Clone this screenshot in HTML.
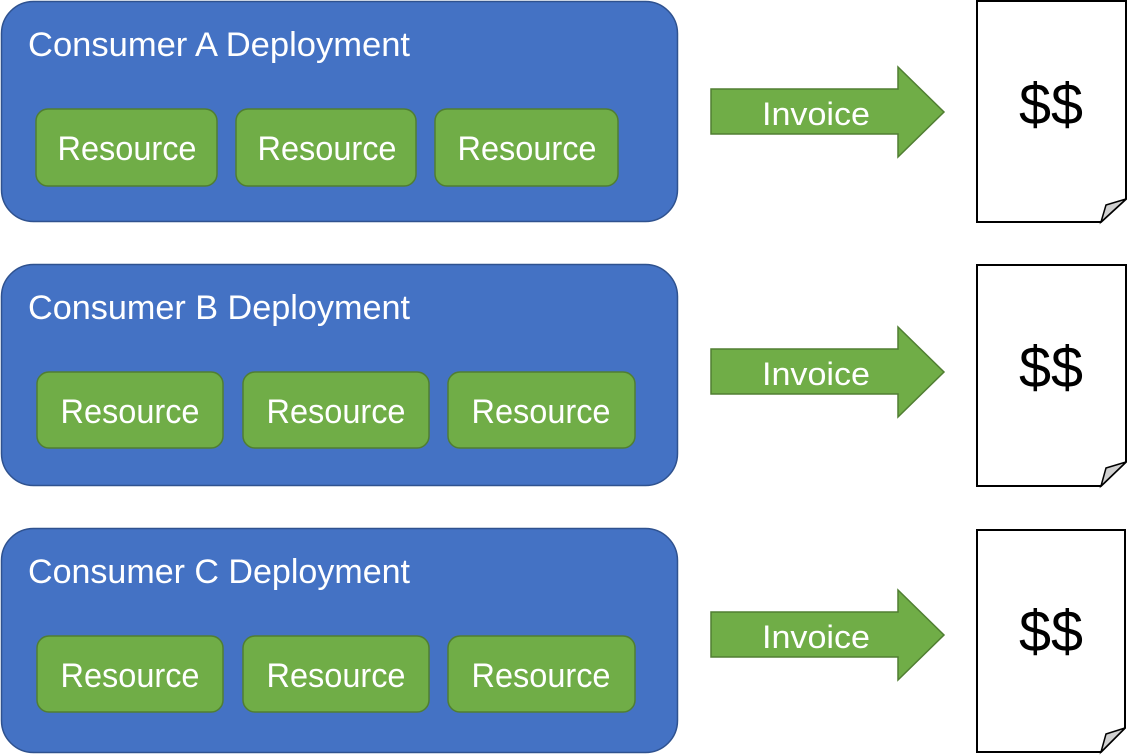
<!DOCTYPE html>
<html><head><meta charset="utf-8"><style>html,body{margin:0;padding:0;background:#fff}svg{display:block}</style></head>
<body>
<svg width="1129" height="755" viewBox="0 0 1129 755" xmlns="http://www.w3.org/2000/svg" font-family="'Liberation Sans', sans-serif">
<defs>
<g id="arrow"><polygon points="711,22 898,22 898,0 944,45 898,90 898,67 711,67" fill="#70ad47" stroke="#507e32" stroke-width="1.5"/></g>
</defs>
<!-- A -->
<rect x="1.5" y="1.5" width="676" height="220" rx="32" fill="#4472c4" stroke="#2f528f" stroke-width="1.5"/>
<text x="28" y="56" font-size="34" fill="#fff" textLength="382" lengthAdjust="spacingAndGlyphs">Consumer A Deployment</text>
<rect x="36" y="109" width="181" height="77" rx="12" fill="#70ad47" stroke="#507e32" stroke-width="1.5"/>
<rect x="236" y="109" width="180" height="77" rx="12" fill="#70ad47" stroke="#507e32" stroke-width="1.5"/>
<rect x="435" y="109" width="183" height="77" rx="12" fill="#70ad47" stroke="#507e32" stroke-width="1.5"/>
<text x="127" y="160" font-size="34" fill="#fff" text-anchor="middle" textLength="139" lengthAdjust="spacingAndGlyphs">Resource</text>
<text x="327" y="160" font-size="34" fill="#fff" text-anchor="middle" textLength="139" lengthAdjust="spacingAndGlyphs">Resource</text>
<text x="527" y="160" font-size="34" fill="#fff" text-anchor="middle" textLength="139" lengthAdjust="spacingAndGlyphs">Resource</text>
<!-- B -->
<rect x="1.5" y="264.5" width="676" height="221" rx="32" fill="#4472c4" stroke="#2f528f" stroke-width="1.5"/>
<text x="28" y="319" font-size="34" fill="#fff" textLength="382" lengthAdjust="spacingAndGlyphs">Consumer B Deployment</text>
<rect x="37" y="372" width="186" height="76" rx="12" fill="#70ad47" stroke="#507e32" stroke-width="1.5"/>
<rect x="243" y="372" width="186" height="76" rx="12" fill="#70ad47" stroke="#507e32" stroke-width="1.5"/>
<rect x="448" y="372" width="187" height="76" rx="12" fill="#70ad47" stroke="#507e32" stroke-width="1.5"/>
<text x="130" y="423" font-size="34" fill="#fff" text-anchor="middle" textLength="139" lengthAdjust="spacingAndGlyphs">Resource</text>
<text x="336" y="423" font-size="34" fill="#fff" text-anchor="middle" textLength="139" lengthAdjust="spacingAndGlyphs">Resource</text>
<text x="541" y="423" font-size="34" fill="#fff" text-anchor="middle" textLength="139" lengthAdjust="spacingAndGlyphs">Resource</text>
<!-- C -->
<rect x="1.5" y="528.5" width="676" height="224" rx="32" fill="#4472c4" stroke="#2f528f" stroke-width="1.5"/>
<text x="28" y="583" font-size="34" fill="#fff" textLength="382" lengthAdjust="spacingAndGlyphs">Consumer C Deployment</text>
<rect x="37" y="636" width="186" height="76" rx="12" fill="#70ad47" stroke="#507e32" stroke-width="1.5"/>
<rect x="243" y="636" width="186" height="76" rx="12" fill="#70ad47" stroke="#507e32" stroke-width="1.5"/>
<rect x="448" y="636" width="187" height="76" rx="12" fill="#70ad47" stroke="#507e32" stroke-width="1.5"/>
<text x="130" y="687" font-size="34" fill="#fff" text-anchor="middle" textLength="139" lengthAdjust="spacingAndGlyphs">Resource</text>
<text x="336" y="687" font-size="34" fill="#fff" text-anchor="middle" textLength="139" lengthAdjust="spacingAndGlyphs">Resource</text>
<text x="541" y="687" font-size="34" fill="#fff" text-anchor="middle" textLength="139" lengthAdjust="spacingAndGlyphs">Resource</text>
<!-- arrows -->
<use href="#arrow" transform="translate(0,67)"/>
<use href="#arrow" transform="translate(0,327)"/>
<use href="#arrow" transform="translate(0,590)"/>
<text x="816" y="125" font-size="32" fill="#fff" text-anchor="middle" textLength="108" lengthAdjust="spacingAndGlyphs">Invoice</text>
<text x="816" y="385" font-size="32" fill="#fff" text-anchor="middle" textLength="108" lengthAdjust="spacingAndGlyphs">Invoice</text>
<text x="816" y="648" font-size="32" fill="#fff" text-anchor="middle" textLength="108" lengthAdjust="spacingAndGlyphs">Invoice</text>
<!-- docs -->
<g stroke="#000" stroke-width="2">
<polygon points="977,1 1126,1 1126,199 1101,222 977,222" fill="#fff"/>
<polygon points="1101,222 1106,205 1126,199" fill="#d0d0d0" stroke-width="1.5"/>
<polygon points="977,265 1126,265 1126,462 1101,486 977,486" fill="#fff"/>
<polygon points="1101,486 1106,468 1126,462" fill="#d0d0d0" stroke-width="1.5"/>
<polygon points="977,530 1125,530 1125,728 1101,752 977,752" fill="#fff"/>
<polygon points="1101,752 1106,734 1125,728" fill="#d0d0d0" stroke-width="1.5"/>
</g>
<text x="1051" y="124" font-size="58" fill="#000" text-anchor="middle" textLength="64" lengthAdjust="spacingAndGlyphs">$$</text>
<text x="1051" y="387" font-size="58" fill="#000" text-anchor="middle" textLength="64" lengthAdjust="spacingAndGlyphs">$$</text>
<text x="1051" y="651" font-size="58" fill="#000" text-anchor="middle" textLength="64" lengthAdjust="spacingAndGlyphs">$$</text>
</svg>
</body></html>
